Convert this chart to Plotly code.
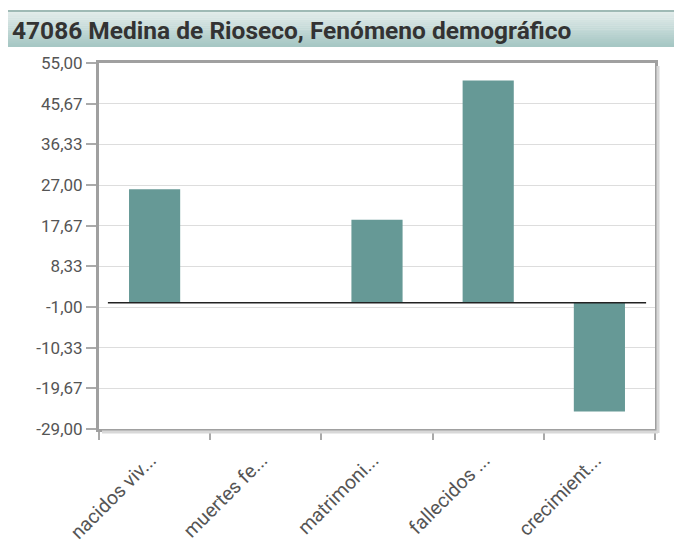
import plotly.graph_objects as go

categories = ["nacidos viv...", "muertes fe...", "matrimoni...", "fallecidos ...", "crecimient..."]
values = [26, 0, 19, 51, -25]
y_tick_vals = [55, 45.67, 36.33, 27, 17.67, 8.33, -1, -10.33, -19.67, -29]
y_tick_text = ["55,00", "45,67", "36,33", "27,00", "17,67", "8,33", "-1,00", "-10,33", "-19,67", "-29,00"]
title_text = "47086 Medina de Rioseco, Fenómeno demográfico"

# figure geometry (page body has an 8px margin)
W, H = 674, 538
ML, MT, PW, PH = 91, 55, 556, 366


def px(xf):
    return (xf - ML) / PW


def py(yf):
    return 1 + (MT - yf) / PH


fig = go.Figure()
fig.add_trace(go.Bar(
    x=categories, y=values, width=0.46,
    marker=dict(color="#669996", line=dict(width=0)),
    hoverinfo="x+y", showlegend=False,
))

shapes = []
# header gradient bands
top_c = (226, 236, 235)
bot_c = (166, 199, 196)
y0p, y1p = 4, 39
n = 18
for i in range(n):
    a = y0p + (y1p - y0p) * i / n
    b = y0p + (y1p - y0p) * (i + 1) / n
    t = i / (n - 1)
    c = tuple(int(top_c[k] + (bot_c[k] - top_c[k]) * t) for k in range(3))
    shapes.append(dict(type="rect", xref="paper", yref="paper",
                       x0=px(0), x1=px(W + 2),
                       y0=py(b), y1=py(a) + 0.001,
                       fillcolor="rgb(%d,%d,%d)" % c, line=dict(width=0), layer="below"))
# header top line
shapes.append(dict(type="line", xref="paper", yref="paper",
                   x0=px(0), x1=px(W + 2), y0=py(3), y1=py(3),
                   line=dict(color="#9fbab6", width=2)))
# zero reference line
shapes.append(dict(type="line", xref="x", yref="y", x0=-0.42, x1=4.42, y0=0, y1=0,
                   line=dict(color="#222222", width=1.5)))
# subtle shadow of right & bottom border
shapes.append(dict(type="line", xref="paper", yref="paper", x0=px(ML + PW + 3), x1=px(ML + PW + 3),
                   y0=py(MT + PH + 4), y1=py(MT + 3), line=dict(color="#d8d8d8", width=3)))
shapes.append(dict(type="line", xref="paper", yref="paper", x0=px(ML + 3), x1=px(ML + PW + 3),
                   y0=py(MT + PH + 3), y1=py(MT + PH + 3), line=dict(color="#d8d8d8", width=3)))

fig.update_layout(
    width=W, height=H,
    margin=dict(l=ML, r=W - ML - PW, t=MT, b=H - MT - PH),
    paper_bgcolor="white", plot_bgcolor="white",
    font=dict(family="Roboto, Arial, sans-serif", color="#555555", size=17),
    shapes=shapes,
    annotations=[dict(text="<b>" + title_text + "</b>", xref="paper", yref="paper",
                      x=px(2), y=py(22), xanchor="left", yanchor="middle",
                      showarrow=False, font=dict(size=24.5, color="#333333",
                                                 family="Roboto, Arial, sans-serif"))],
    xaxis=dict(
        type="category", range=[-0.5, 4.5], tickson="boundaries", automargin=False,
        ticks="outside", ticklen=8, tickwidth=2, tickcolor="#aaaaaa",
        showline=True, linecolor="#a0a0a0", linewidth=3, mirror=True,
        showgrid=False, tickangle=-45, tickfont=dict(size=19.5, color="#555555"),
        ticklabelstandoff=9, ticklabelshift=-4,
    ),
    yaxis=dict(
        range=[-29, 55], tickvals=y_tick_vals, ticktext=y_tick_text, automargin=False,
        ticks="outside", ticklen=10, tickwidth=2, tickcolor="#aaaaaa",
        showline=True, linecolor="#a0a0a0", linewidth=3, mirror=True,
        showgrid=True, gridcolor="#dddddd", gridwidth=1, zeroline=False,
        tickfont=dict(size=17, color="#555555"),
    ),
    bargap=0.54,
)

fig.write_html("out.html")
